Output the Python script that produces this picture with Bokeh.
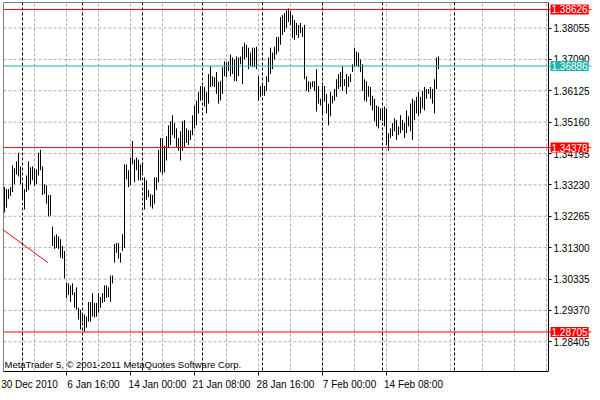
from bokeh.plotting import figure
from bokeh.models import (Range1d, FixedTicker, Span, Label, PrintfTickFormatter,
                          LinearAxis)
from bokeh.embed import file_html
from bokeh.resources import INLINE

# H4 bars: high / low per bar (bar index = position)
highs = [
    1.3316, 1.3310, 1.3310, 1.3316, 1.3383, 1.3374, 1.3395, 1.3422, 1.3380, 1.3322,
    1.3310, 1.3352, 1.3395, 1.3377, 1.3380, 1.3374, 1.3371, 1.3422, 1.3431, 1.3380,
    1.3325, 1.3322, 1.3292, 1.3292, 1.3195, 1.3165, 1.3171, 1.3165, 1.3156, 1.3135,
    1.3120, 1.3023, 1.3020, 1.3014, 1.3020, 1.2993, 1.3008, 1.2945, 1.2939, 1.2924,
    1.2924, 1.2918, 1.2963, 1.2963, 1.2990, 1.2960, 1.2960, 1.2990, 1.2978, 1.2990,
    1.3014, 1.3014, 1.3008, 1.3044, 1.3044, 1.3141, 1.3144, 1.3144, 1.3114, 1.3171,
    1.3386, 1.3386, 1.3368, 1.3407, 1.3458, 1.3401, 1.3407, 1.3401, 1.3386, 1.3392,
    1.3346, 1.3337, 1.3307, 1.3295, 1.3292, 1.3346, 1.3346, 1.3431, 1.3467, 1.3467,
    1.3443, 1.3473, 1.3506, 1.3519, 1.3537, 1.3513, 1.3497, 1.3467, 1.3488, 1.3519,
    1.3522, 1.3497, 1.3491, 1.3491, 1.3537, 1.3567, 1.3582, 1.3609, 1.3627, 1.3627,
    1.3624, 1.3609, 1.3664, 1.3688, 1.3657, 1.3654, 1.3670, 1.3639, 1.3642, 1.3685,
    1.3703, 1.3700, 1.3703, 1.3724, 1.3715, 1.3709, 1.3718, 1.3715, 1.3718, 1.3748,
    1.3760, 1.3754, 1.3745, 1.3730, 1.3745, 1.3745, 1.3748, 1.3657, 1.3627, 1.3633,
    1.3627, 1.3657, 1.3715, 1.3745, 1.3730, 1.3748, 1.3778, 1.3778, 1.3839, 1.3845,
    1.3851, 1.3860, 1.3866, 1.3857, 1.3845, 1.3830, 1.3821, 1.3815, 1.3821, 1.3808,
    1.3815, 1.3657, 1.3642, 1.3639, 1.3642, 1.3642, 1.3679, 1.3627, 1.3588, 1.3627,
    1.3627, 1.3603, 1.3573, 1.3609, 1.3597, 1.3618, 1.3648, 1.3664, 1.3670, 1.3688,
    1.3648, 1.3664, 1.3657, 1.3664, 1.3694, 1.3745, 1.3733, 1.3730, 1.3709, 1.3694,
    1.3648, 1.3642, 1.3627, 1.3624, 1.3597, 1.3588, 1.3567, 1.3564, 1.3558, 1.3558,
    1.3564, 1.3558, 1.3482, 1.3497, 1.3513, 1.3528, 1.3522, 1.3503, 1.3537, 1.3522,
    1.3513, 1.3552, 1.3534, 1.3573, 1.3588, 1.3582, 1.3594, 1.3609, 1.3594, 1.3612,
    1.3624, 1.3618, 1.3618, 1.3624, 1.3618, 1.3648, 1.3715, 1.3718,
]
lows = [
    1.3238, 1.3253, 1.3280, 1.3289, 1.3301, 1.3325, 1.3355, 1.3349, 1.3325, 1.3277,
    1.3247, 1.3301, 1.3307, 1.3325, 1.3337, 1.3319, 1.3325, 1.3352, 1.3368, 1.3292,
    1.3295, 1.3265, 1.3226, 1.3229, 1.3135, 1.3126, 1.3129, 1.3126, 1.3099, 1.3096,
    1.3035, 1.2975, 1.2984, 1.2963, 1.2984, 1.2945, 1.2939, 1.2909, 1.2878, 1.2902,
    1.2871, 1.2884, 1.2902, 1.2902, 1.2918, 1.2915, 1.2918, 1.2930, 1.2945, 1.2960,
    1.2963, 1.2975, 1.2978, 1.2963, 1.3020, 1.3084, 1.3114, 1.3096, 1.3084, 1.3120,
    1.3129, 1.3340, 1.3316, 1.3322, 1.3386, 1.3331, 1.3368, 1.3337, 1.3337, 1.3362,
    1.3247, 1.3277, 1.3286, 1.3256, 1.3250, 1.3265, 1.3307, 1.3331, 1.3362, 1.3355,
    1.3362, 1.3398, 1.3437, 1.3446, 1.3476, 1.3467, 1.3437, 1.3428, 1.3398, 1.3428,
    1.3437, 1.3452, 1.3446, 1.3461, 1.3476, 1.3497, 1.3506, 1.3543, 1.3582, 1.3588,
    1.3564, 1.3543, 1.3573, 1.3624, 1.3627, 1.3624, 1.3603, 1.3573, 1.3582, 1.3603,
    1.3657, 1.3654, 1.3673, 1.3657, 1.3664, 1.3642, 1.3642, 1.3657, 1.3694, 1.3633,
    1.3709, 1.3715, 1.3679, 1.3688, 1.3685, 1.3685, 1.3679, 1.3582, 1.3594, 1.3603,
    1.3597, 1.3612, 1.3639, 1.3664, 1.3679, 1.3709, 1.3724, 1.3733, 1.3754, 1.3784,
    1.3793, 1.3805, 1.3824, 1.3815, 1.3775, 1.3769, 1.3784, 1.3775, 1.3790, 1.3778,
    1.3648, 1.3612, 1.3609, 1.3618, 1.3624, 1.3612, 1.3549, 1.3573, 1.3567, 1.3537,
    1.3579, 1.3543, 1.3506, 1.3534, 1.3573, 1.3582, 1.3594, 1.3618, 1.3624, 1.3612,
    1.3627, 1.3603, 1.3624, 1.3639, 1.3670, 1.3685, 1.3688, 1.3685, 1.3670, 1.3612,
    1.3582, 1.3579, 1.3594, 1.3567, 1.3552, 1.3519, 1.3503, 1.3497, 1.3522, 1.3519,
    1.3503, 1.3446, 1.3428, 1.3467, 1.3473, 1.3488, 1.3461, 1.3476, 1.3482, 1.3491,
    1.3467, 1.3482, 1.3503, 1.3488, 1.3461, 1.3522, 1.3543, 1.3534, 1.3543, 1.3558,
    1.3552, 1.3588, 1.3603, 1.3588, 1.3573, 1.3543, 1.3618, 1.3679,
]
bar_index = list(range(len(highs)))

# time axis labels (bar index of each labelled tick)
time_tick_bars = [-1, 31, 63, 95, 127, 159, 191]
time_tick_labels = ["30 Dec 2010", "6 Jan 16:00", "14 Jan 00:00", "21 Jan 08:00",
                    "28 Jan 16:00", "7 Feb 00:00", "14 Feb 08:00"]
grid_bars = [15, 31, 47, 63, 79, 95, 111, 127, 143, 159, 175, 191, 207, 223, 239, 255, 271]
period_separators = [9, 39, 69, 99, 129, 159, 189, 225]

price_ticks = [1.38055, 1.37090, 1.36125, 1.35160, 1.34195, 1.33230,
               1.32265, 1.31300, 1.30335, 1.29370, 1.28405]

level_prices = [1.38626, 1.36886, 1.34378, 1.28705]
level_colors = ["#ff0000", "#20b2aa", "#ff0000", "#ff0000"]

trend_bars = [-1, 21.7]
trend_prices = [1.3186, 1.3084]

# ---- layout constants (styling only) ----
W, H = 592, 392
LEFT, TOP, BOTTOM = 3, 2, 14
FRAME_W = W - LEFT - 1     # frame spans to the right edge; price scale drawn inside it
CHART_W = 545              # width of the bar area (left of the price scale)
PX_PER_BAR = 2.0
X0 = -0.5
X_END = X0 + CHART_W / PX_PER_BAR
X_FULL = X0 + FRAME_W / PX_PER_BAR
Y0, Y1 = 1.27490, 1.38840
FONT = "Liberation Sans"
GRID = "#b4acbc"
LABEL_SHIFT = 13.5         # half a label width, in bars, so labels start at their tick

p = figure(width=W, height=H,
           x_range=Range1d(X0, X_FULL), y_range=Range1d(Y0, Y1),
           y_axis_location="right", output_backend="svg", toolbar_location=None,
           min_border_left=LEFT, min_border_top=TOP, min_border_right=1,
           min_border_bottom=BOTTOM)
p.outline_line_color = None
p.background_fill_color = "white"
p.border_fill_color = "white"

# vertical grid
p.xgrid.ticker = FixedTicker(ticks=grid_bars)
p.xgrid.grid_line_color = GRID
p.xgrid.grid_line_dash = "3 2"
p.ygrid.visible = False
# horizontal grid, limited to the bar area
p.segment(x0=X0, x1=X_END, y0=price_ticks, y1=price_ticks,
          line_color=GRID, line_dash="3 2", line_width=1)

# price scale (drawn at the right edge of the bar area)
ya = p.yaxis[0]
ya.fixed_location = X_END
ya.ticker = FixedTicker(ticks=price_ticks)
ya.formatter = PrintfTickFormatter(format="%.5f")
ya.major_tick_in = 0
ya.major_tick_out = 3
ya.minor_tick_line_color = None
ya.axis_line_color = "black"
ya.major_label_text_font = FONT
ya.major_label_text_font_size = "10px"
ya.major_label_text_color = "black"
ya.major_label_standoff = 2

# time scale: minor ticks mark the times, labels start at their tick
shifted = [b + LABEL_SHIFT for b in time_tick_bars]
xa = p.xaxis[0]
xa.ticker = FixedTicker(ticks=shifted, minor_ticks=time_tick_bars)
xa.major_label_overrides = {s: t for s, t in zip(shifted, time_tick_labels)}
xa.bounds = (X0, X_END)
xa.major_tick_in = 0
xa.major_tick_out = 0
xa.minor_tick_in = 0
xa.minor_tick_out = 4
xa.minor_tick_line_color = "black"
xa.axis_line_color = "black"
xa.major_label_standoff = 3
xa.major_label_text_font = FONT
xa.major_label_text_font_size = "10px"
xa.major_label_text_color = "black"

# frame borders (top and left) of the bar area
top = LinearAxis(ticker=FixedTicker(ticks=[]), fixed_location=Y1, bounds=(X0, X_END),
                 axis_line_color="black", major_tick_out=0, major_tick_in=0,
                 minor_tick_line_color=None)
p.add_layout(top, "above")
left = LinearAxis(ticker=FixedTicker(ticks=[]), fixed_location=X0,
                  axis_line_color="black", major_tick_out=0, major_tick_in=0,
                  minor_tick_line_color=None)
p.add_layout(left, "left")

# period separators
for s in period_separators:
    p.add_layout(Span(location=s, dimension="height", line_color="black",
                      line_dash="3 2", line_width=1))

# bars
p.segment(x0=bar_index, y0=lows, x1=bar_index, y1=highs,
          line_color="black", line_width=1)

# trend line
p.line(trend_bars, trend_prices, line_color="#ff0000", line_width=1)

# horizontal levels + price tags
for lvl, c in zip(level_prices, level_colors):
    p.add_layout(Span(location=lvl, dimension="width", line_color=c, line_width=1))
    p.add_layout(Label(x=X_END, y=lvl, x_offset=2, text=f"{lvl:.5f}",
                       text_color="white", text_font=FONT, text_font_size="10px",
                       text_align="left", text_baseline="middle",
                       background_fill_color=c, padding=1))

p.add_layout(Label(x=X0, y=Y0, x_offset=1, y_offset=2,
                   text="MetaTrader 5, \u00a9 2001-2011 MetaQuotes Software Corp.",
                   text_font=FONT, text_font_size="9.5px", text_color="black",
                   text_baseline="bottom", text_align="left"))

open("out.html", "w").write(file_html(p, INLINE))
